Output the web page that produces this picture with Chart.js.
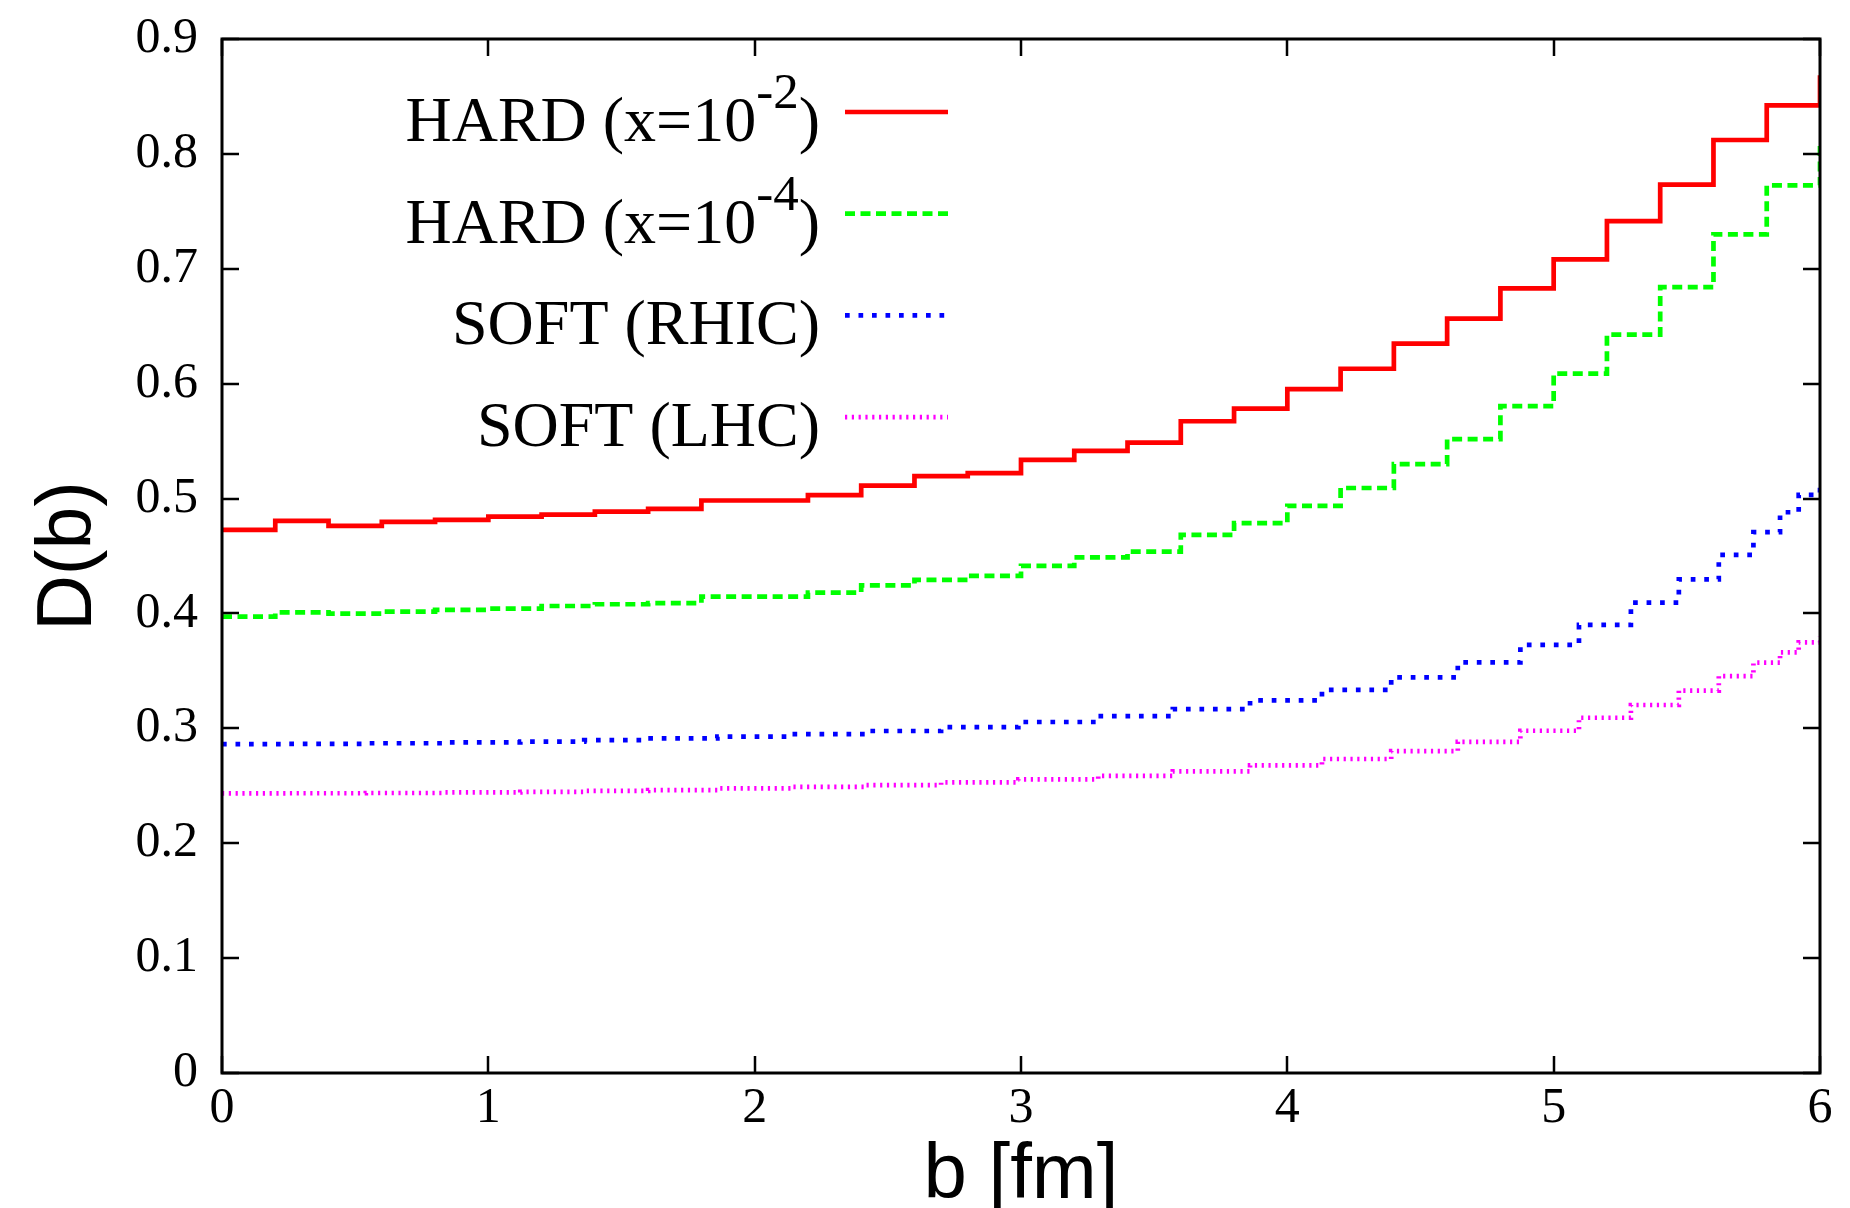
<!DOCTYPE html>
<html lang="en">
<head>
<meta charset="UTF-8">
<title>D(b)</title>
<script src="https://cdn.jsdelivr.net/npm/chart.js"></script>
<style>
  html, body { margin: 0; padding: 0; background: #fff; overflow: hidden; }
  canvas { display: block; }
</style>
</head>
<body>
<canvas id="chart" width="1850" height="1208"></canvas>
<script>
// hard curves: bins of 0.2 fm, last point closes the final step at b = 6
const bHard = [0, 0.2, 0.4, 0.6, 0.8, 1.0, 1.2, 1.4, 1.6, 1.8, 2.0, 2.2, 2.4, 2.6, 2.8, 3.0,
               3.2, 3.4, 3.6, 3.8, 4.0, 4.2, 4.4, 4.6, 4.8, 5.0, 5.2, 5.4, 5.6, 5.8, 6.0];
const hardX2 = [0.4727, 0.4805, 0.4762, 0.4797, 0.4815, 0.4843, 0.4861, 0.4887, 0.4910, 0.4983, 0.4983,
                0.5030, 0.5112, 0.5195, 0.5221, 0.5337, 0.5415, 0.5486, 0.5673, 0.5782, 0.5953,
                0.6130, 0.6348, 0.6566, 0.6830, 0.7082, 0.7415, 0.7732, 0.8121, 0.8423, 0.8685];
const hardX4 = [0.3972, 0.4010, 0.3998, 0.4016, 0.4031, 0.4042, 0.4065, 0.4080, 0.4089, 0.4147, 0.4147,
                0.4181, 0.4245, 0.4292, 0.4327, 0.4414, 0.4488, 0.4538, 0.4684, 0.4787, 0.4936,
                0.5092, 0.5300, 0.5518, 0.5804, 0.6087, 0.6426, 0.6840, 0.7300, 0.7726, 0.8107];

// soft curves: narrower bins towards the edge
const bSoft = [0, 0.25, 0.54, 0.83, 1.12, 1.36, 1.60, 1.86, 2.14, 2.42, 2.70, 2.99, 3.29, 3.57,
               3.86, 4.13, 4.39, 4.64, 4.875, 5.095, 5.29, 5.47, 5.62, 5.75, 5.85, 5.92, 6.0];
const softRhic = [0.2863, 0.2865, 0.2870, 0.2877, 0.2884, 0.2898, 0.2913, 0.2927, 0.2950, 0.2977,
                  0.3011, 0.3055, 0.3107, 0.3168, 0.3244, 0.3334, 0.3444, 0.3574, 0.3726, 0.3900,
                  0.4094, 0.4297, 0.4510, 0.4707, 0.4881, 0.5032, 0.5096];
const softLhc = [0.2434, 0.2435, 0.2437, 0.2442, 0.2447, 0.2455, 0.2463, 0.2477, 0.2491, 0.2506,
                 0.2530, 0.2556, 0.2587, 0.2625, 0.2677, 0.2733, 0.2802, 0.2883, 0.2979, 0.3092,
                 0.3203, 0.3328, 0.3455, 0.3572, 0.3662, 0.3749, 0.3798];

const seriesLabels = ['HARD (x=10^-2)', 'HARD (x=10^-4)', 'SOFT (RHIC)', 'SOFT (LHC)'];
const seriesColors = ['#ff0000', '#00ff00', '#0000ff', '#ff00ff'];
const xTitle = 'b [fm]';
const yTitle = 'D(b)';

const serif = "'Liberation Serif', 'Times New Roman', serif";
const sans = "'Liberation Sans', Arial, sans-serif";

function pts(xs, ys) {
  return xs.map((x, i) => ({ x: x, y: ys[i] }));
}

const dashes = [[], [10, 5.5], [4.7, 8.8], [2.2, 4.6]];
const sets = [pts(bHard, hardX2), pts(bHard, hardX4), pts(bSoft, softRhic), pts(bSoft, softLhc)];

const datasets = sets.map((d, i) => ({
  label: seriesLabels[i].replace('^', ''),
  data: d,
  borderColor: seriesColors[i],
  borderWidth: 4.7,
  borderDash: dashes[i],
  borderCapStyle: 'butt',
  stepped: 'before',
  pointRadius: 0,
  fill: false
}));

// gnuplot style box with inward ticks on every side
const framePlugin = {
  id: 'frame',
  afterDraw(chart) {
    const { ctx, chartArea: a, scales } = chart;
    const len = 17;
    ctx.save();
    ctx.strokeStyle = '#000';
    ctx.lineWidth = 2.5;
    ctx.beginPath();
    scales.y.ticks.forEach(t => {
      const y = Math.round(scales.y.getPixelForValue(t.value));
      ctx.moveTo(a.left, y); ctx.lineTo(a.left + len, y);
      ctx.moveTo(a.right, y); ctx.lineTo(a.right - len, y);
    });
    scales.x.ticks.forEach(t => {
      const x = Math.round(scales.x.getPixelForValue(t.value));
      ctx.moveTo(x, a.bottom); ctx.lineTo(x, a.bottom - len);
      ctx.moveTo(x, a.top); ctx.lineTo(x, a.top + len);
    });
    ctx.stroke();
    ctx.lineWidth = 3;
    ctx.strokeRect(a.left, a.top, a.right - a.left, a.bottom - a.top);
    ctx.restore();
  }
};

// key: right aligned text, line sample to its right
const keyPlugin = {
  id: 'key',
  afterDraw(chart) {
    const ctx = chart.ctx;
    const textRight = 820, sampleL = 845, sampleR = 948;
    const row0 = 112, rowGap = 101.7;
    const big = '64px ' + serif, small = '51px ' + serif;
    ctx.save();
    chart.data.datasets.forEach((ds, i) => {
      const yc = row0 + i * rowGap;
      const base = yc + 29;
      const m = seriesLabels[i].match(/^(.*)\^(-?\d+)(.*)$/);
      const parts = m ? [[m[1], big, 0], [m[2], small, -33], [m[3], big, 0]]
                      : [[seriesLabels[i], big, 0]];
      let w = 0;
      parts.forEach(p => { ctx.font = p[1]; w += ctx.measureText(p[0]).width; });
      let x = textRight - w;
      ctx.fillStyle = '#000';
      ctx.textAlign = 'left';
      ctx.textBaseline = 'alphabetic';
      parts.forEach(p => {
        ctx.font = p[1];
        ctx.fillText(p[0], x, base + p[2]);
        x += ctx.measureText(p[0]).width;
      });
      ctx.strokeStyle = ds.borderColor;
      ctx.lineWidth = ds.borderWidth;
      ctx.lineCap = 'butt';
      ctx.setLineDash(ds.borderDash);
      ctx.beginPath();
      ctx.moveTo(sampleL, yc);
      ctx.lineTo(sampleR, yc);
      ctx.stroke();
      ctx.setLineDash([]);
    });
    ctx.restore();
  }
};

new Chart(document.getElementById('chart'), {
  type: 'line',
  data: { datasets: datasets },
  options: {
    responsive: false,
    animation: false,
    layout: { padding: { top: 39, right: 30, bottom: 0, left: 0 } },
    plugins: { legend: { display: false }, tooltip: { enabled: false } },
    scales: {
      x: {
        type: 'linear',
        min: 0,
        max: 6,
        grid: { display: false, drawTicks: false },
        border: { display: false },
        ticks: { stepSize: 1, padding: 6, color: '#000', font: { family: serif, size: 50 } },
        title: {
          display: true, text: xTitle, color: '#000',
          font: { family: sans, size: 78, lineHeight: 0.8 },
          padding: { top: 0, bottom: 0 }
        },
        afterFit(s) {
          s.height = 135;
          s.paddingLeft = 0;
          s.paddingRight = 0;
        }
      },
      y: {
        min: 0,
        max: 0.9,
        grid: { display: false, drawTicks: false },
        border: { display: false },
        ticks: {
          stepSize: 0.1, padding: 24, color: '#000',
          font: { family: serif, size: 50 },
          callback: v => (Math.abs(v) < 1e-9 ? '0' : v.toFixed(1))
        },
        title: {
          display: true, text: yTitle, color: '#000',
          font: { family: sans, size: 77, lineHeight: 1.2 },
          padding: { top: 24, bottom: 0 }
        },
        afterFit(s) {
          s.width = 222;
          s.paddingTop = 0;
          s.paddingBottom = 0;
        }
      }
    }
  },
  plugins: [framePlugin, keyPlugin]
});
</script>
</body>
</html>
